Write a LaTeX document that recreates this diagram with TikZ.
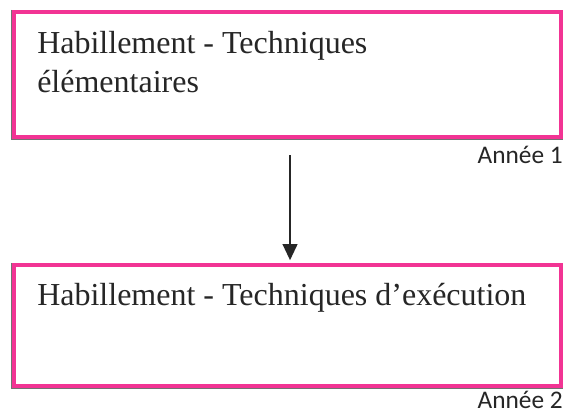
\documentclass[tikz,border=0pt]{standalone}
\usepackage{fontspec}
\setmainfont{Liberation Serif}
\newfontfamily\calib{Carlito}
\usetikzlibrary{arrows.meta}
\definecolor{hotpink}{RGB}{242,52,148}
\tikzset{
  boxstyle/.style={draw=hotpink, line width=3.2pt, rectangle, inner sep=0pt},
  shadowline/.style={draw=black!55, line width=0.7pt},
  maintext/.style={anchor=base west, inner sep=0pt, font=\fontsize{24}{29}\selectfont, text=black!85},
  yeartext/.style={anchor=base east, inner sep=0pt, font=\calib\fontsize{19}{23}\selectfont, text=black!85},
  arrowstyle/.style={line width=1.3pt, -{Triangle[width=11pt,length=12pt]}, black!85}
}
\begin{document}
\begin{tikzpicture}[x=0.75pt,y=-0.75pt]
\useasboundingbox (0,0) rectangle (568,414);
\fill[white] (0,0) rectangle (568,414);
\node[boxstyle, minimum width=410.25pt, minimum height=93.75pt] (top) at (287.5,74.5) {};
\node[boxstyle, minimum width=410.25pt, minimum height=90.75pt] (bot) at (287.5,325.5) {};
\draw[shadowline] ([xshift=-0.3pt]top.north west) -- ([xshift=-0.3pt,yshift=-0.3pt]top.south west) -- ([yshift=-0.3pt]top.south east);
\draw[shadowline] ([xshift=-0.3pt]bot.north west) -- ([xshift=-0.3pt,yshift=-0.3pt]bot.south west) -- ([yshift=-0.3pt]bot.south east);
\node[maintext] (t1a) at (37,53) {Habillement - Techniques};
\node[maintext] (t1b) at (37,92) {élémentaires};
\node[maintext] (t2) at (37,305) {Habillement - Techniques d’exécution};
\node[yeartext] (y1) at (563,163) {Année 1};
\node[yeartext] (y2) at (563,408) {Année 2};
\draw[arrowstyle] ([xshift=1.9pt,yshift=-12pt]top.south) -- ([xshift=1.9pt,yshift=2pt]bot.north);
\end{tikzpicture}
\end{document}
